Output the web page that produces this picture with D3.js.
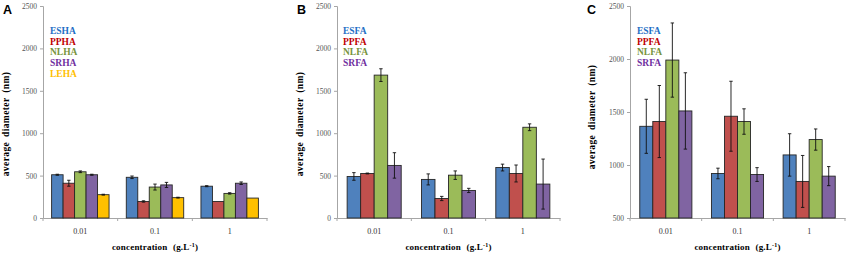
<!DOCTYPE html>
<html>
<head>
<meta charset="utf-8">
<script src="https://cdn.jsdelivr.net/npm/d3@7"></script>
<style>
  body { margin: 0; background: #fff; }
  svg text { font-family: "Liberation Serif", "Times New Roman", serif; }
</style>
</head>
<body>
<div id="chart"></div>
<script>
// concentrations on the x axis (g.L-1)
var concentrations = ["0.01", "0.1", "1"];

// panel A : humic acids
var seriesA = ["ESHA", "PPHA", "NLHA", "SRHA", "LEHA"];
var valuesA = [[510, 480, 375], [410, 195, 195], [545, 365, 290], [510, 390, 410], [275, 240, 235]];
var errorsA = [[6, 15, 6], [35, 8, 0], [10, 35, 8], [6, 30, 15], [5, 5, 0]];
var ticksA = [0, 500, 1000, 1500, 2000, 2500];

// panel B : fulvic acids
var seriesB = ["ESFA", "PPFA", "NLFA", "SRFA"];
var valuesB = [[490, 455, 595], [525, 230, 525], [1685, 505, 1070], [620, 325, 400]];
var errorsB = [[45, 65, 40], [5, 25, 100], [75, 50, 40], [150, 25, 295]];
var ticksB = [0, 500, 1000, 1500, 2000, 2500];

// panel C : fulvic acids
var seriesC = ["ESFA", "PPFA", "NLFA", "SRFA"];
var valuesC = [[1365, 920, 1095], [1410, 1460, 845], [1990, 1410, 1240], [1510, 910, 895]];
var errorsC = [[255, 50, 200], [340, 330, 245], [350, 120, 100], [360, 65, 90]];
var ticksC = [500, 1000, 1500, 2000, 2500];

var barColors = {
    ES: "#4f81bd", PP: "#c0504d", NL: "#9bbb59", SR: "#8064a2", LE: "#ffc000"
};
var textColors = {
    ES: "#1f6fc5", PP: "#c00000", NL: "#77933c", SR: "#7030a0", LE: "#ffc000"
};
var serif = "'Liberation Serif', 'Times New Roman', serif";

var svg = d3.select("#chart").append("svg")
    .attr("width", 856)
    .attr("height", 255);

function drawPanel(p) {
    var g = svg.append("g");

    // scales
    var x = d3.scaleBand()
        .domain(concentrations)
        .range([p.left, p.right]);
    var y = d3.scaleLinear()
        .domain([p.ticks[0], p.ticks[p.ticks.length - 1]])
        .range([p.bottom, p.top]);

    var n = p.series.length;
    // excel-like gap width of 150%
    var bw = x.bandwidth() / (n + 1.5);
    var inner = d3.scaleBand()
        .domain(d3.range(n))
        .range([bw * 0.75, bw * 0.75 + bw * n]);

    // y axis
    var yAxis = g.append("g")
        .attr("transform", "translate(" + p.left + ",0)")
        .call(d3.axisLeft(y).tickValues(p.ticks).tickFormat(d3.format("d"))
            .tickSize(3).tickPadding(3));
    yAxis.select(".domain").attr("stroke", "#a6a6a6");
    yAxis.selectAll(".tick line").attr("stroke", "#a6a6a6");
    yAxis.selectAll("text")
        .attr("fill", "#555")
        .style("font-family", serif)
        .style("font-size", "7.5px");

    // x axis
    var xAxis = g.append("g")
        .attr("transform", "translate(0," + p.bottom + ")")
        .call(d3.axisBottom(x).tickSize(0).tickPadding(10));
    xAxis.select(".domain").attr("stroke", "#a6a6a6");
    xAxis.selectAll("text")
        .attr("fill", "#333")
        .style("font-family", serif)
        .style("font-size", "8px");
    // tick marks at band boundaries
    g.selectAll(".bound")
        .data(concentrations.concat(["end"]))
        .enter().append("line")
        .attr("x1", function (d, i) { return i < concentrations.length ? x(d) : p.right; })
        .attr("x2", function (d, i) { return i < concentrations.length ? x(d) : p.right; })
        .attr("y1", p.bottom)
        .attr("y2", p.bottom + 3)
        .attr("stroke", "#a6a6a6");

    // bars
    p.series.forEach(function (name, si) {
        var key = name.slice(0, 2);
        var rows = concentrations.map(function (c, ci) {
            return { c: c, v: p.values[si][ci], e: p.errors[si][ci] };
        });
        var sg = g.append("g");
        sg.selectAll("rect")
            .data(rows)
            .enter().append("rect")
            .attr("x", function (d) { return x(d.c) + inner(si); })
            .attr("y", function (d) { return y(d.v); })
            .attr("width", inner.bandwidth())
            .attr("height", function (d) { return p.bottom - y(d.v); })
            .attr("fill", barColors[key])
            .attr("stroke", "#262626")
            .attr("stroke-width", 0.9);

        // error bars
        var eg = sg.selectAll(".err")
            .data(rows.filter(function (d) { return d.e > 0; }))
            .enter().append("g")
            .attr("stroke", "#111")
            .attr("stroke-width", 0.9);
        eg.append("line")
            .attr("x1", function (d) { return x(d.c) + inner(si) + inner.bandwidth() / 2; })
            .attr("x2", function (d) { return x(d.c) + inner(si) + inner.bandwidth() / 2; })
            .attr("y1", function (d) { return y(d.v - d.e); })
            .attr("y2", function (d) { return y(d.v + d.e); });
        [-1, 1].forEach(function (s) {
            eg.append("line")
                .attr("x1", function (d) { return x(d.c) + inner(si) + inner.bandwidth() / 2 - 1.7; })
                .attr("x2", function (d) { return x(d.c) + inner(si) + inner.bandwidth() / 2 + 1.7; })
                .attr("y1", function (d) { return y(d.v + s * d.e); })
                .attr("y2", function (d) { return y(d.v + s * d.e); });
        });

        // legend entry
        g.append("text")
            .attr("x", p.legendX)
            .attr("y", 34 + si * 10.7)
            .attr("fill", textColors[key])
            .style("font-size", "9.5px")
            .style("font-weight", "bold")
            .text(name);
    });

    // panel letter
    g.append("text")
        .attr("x", p.letterX)
        .attr("y", 14)
        .style("font-family", "'Liberation Sans', Arial, sans-serif")
        .style("font-size", "12.5px")
        .style("font-weight", "bold")
        .text(p.letter);

    // y axis title
    g.append("text")
        .attr("transform", "translate(" + p.yTitleX + "," + p.yTitleY + ") rotate(-90)")
        .attr("text-anchor", "middle")
        .style("font-size", "9.5px")
        .style("font-weight", "bold")
        .style("letter-spacing", "0.4px")
        .style("word-spacing", "2px")
        .text("average diameter (nm)");

    // x axis title
    var xt = g.append("text")
        .attr("x", (p.left + p.right) / 2)
        .attr("y", 250)
        .attr("text-anchor", "middle")
        .style("font-size", "9px")
        .style("font-weight", "bold")
        .style("letter-spacing", "0.2px")
        .style("word-spacing", "3px");
    xt.append("tspan").text("concentration (g.L");
    xt.append("tspan").attr("dy", -3).style("font-size", "6px").text("-1");
    xt.append("tspan").attr("dy", 3).text(")");
}

drawPanel({
    letter: "A", letterX: 3, left: 43, right: 267, top: 6, bottom: 218,
    series: seriesA, values: valuesA, errors: errorsA, ticks: ticksA,
    legendX: 50, yTitleX: 9, yTitleY: 124
});
drawPanel({
    letter: "B", letterX: 297, left: 337, right: 560, top: 6, bottom: 218,
    series: seriesB, values: valuesB, errors: errorsB, ticks: ticksB,
    legendX: 343, yTitleX: 303, yTitleY: 124
});
drawPanel({
    letter: "C", letterX: 587, left: 630, right: 845, top: 6, bottom: 218,
    series: seriesC, values: valuesC, errors: errorsC, ticks: ticksC,
    legendX: 637, yTitleX: 595, yTitleY: 117
});
</script>
</body>
</html>
